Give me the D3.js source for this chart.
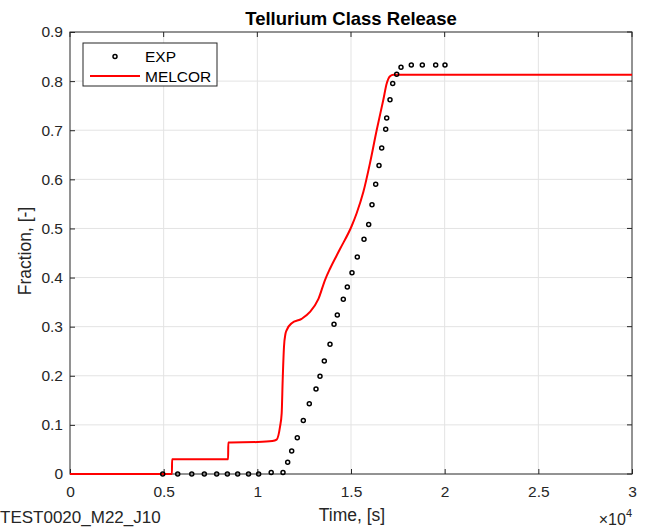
<!DOCTYPE html>
<html>
<head>
<meta charset="utf-8">
<script src="https://cdn.jsdelivr.net/npm/d3@7"></script>
<style>
  body { margin: 0; background: #fff; }
  svg { font-family: "Liberation Sans", Arial, sans-serif; }
</style>
</head>
<body>
<div id="chart"></div>
<script>
// experimental points (time in s, fraction)
var expTime = [4950, 5750, 6500, 7170, 7830, 8400, 8950, 9530, 10070, 10740, 11370,
  11620, 11834, 12133, 12454, 12774, 13132, 13345, 13575, 13879, 14093, 14269, 14589, 14803,
  15053, 15336, 15694, 15944, 16121, 16318, 16495, 16639, 16852, 16906, 17082, 17226,
  17439, 17669, 18219, 18807, 19520, 20017];
var expFrac = [0, 0, 0, 0, 0, 0, 0, 0, 0, 0.003, 0.003,
  0.024, 0.047, 0.074, 0.109, 0.143, 0.173, 0.199, 0.230, 0.264, 0.305, 0.324, 0.356, 0.381,
  0.410, 0.442, 0.478, 0.508, 0.548, 0.590, 0.628, 0.664, 0.702, 0.725, 0.762, 0.795,
  0.814, 0.828, 0.833, 0.833, 0.833, 0.833];

// MELCOR curve
var melTime = [0, 5440, 5450, 8440, 8450, 10000, 10800, 11030, 11210, 11300, 11353, 11423,
  11500, 11567, 11834, 12365, 12811, 13256, 13612, 13879, 14413, 15036, 15302, 15658,
  16014, 16370, 16726, 16906, 17082, 17260, 30000];
var melFrac = [0, 0, 0.030, 0.030, 0.064, 0.065, 0.067, 0.070, 0.096, 0.124, 0.191, 0.259,
  0.285, 0.293, 0.307, 0.316, 0.330, 0.356, 0.395, 0.418, 0.458, 0.505, 0.531, 0.574,
  0.633, 0.700, 0.762, 0.795, 0.810, 0.813, 0.813];

var xTicks = [0, 5000, 10000, 15000, 20000, 25000, 30000];
var xTickLabels = ["0", "0.5", "1", "1.5", "2", "2.5", "3"];
var yTicks = [0, 0.1, 0.2, 0.3, 0.4, 0.5, 0.6, 0.7, 0.8, 0.9];

var W = 653, H = 527;
var margin = {top: 32, right: 21, bottom: 53, left: 70},
    width = W - margin.left - margin.right,
    height = H - margin.top - margin.bottom;

var svg = d3.select("#chart").append("svg")
    .attr("width", W)
    .attr("height", H);

var g = svg.append("g")
    .attr("transform", "translate(" + margin.left + "," + margin.top + ")");

var x = d3.scaleLinear().domain([0, 30000]).range([0, width]);
var y = d3.scaleLinear().domain([0, 0.9]).range([height, 0]);

// grid
g.append("g").selectAll("line").data(xTicks.slice(1, -1)).enter().append("line")
    .attr("x1", d => x(d)).attr("x2", d => x(d))
    .attr("y1", 0).attr("y2", height)
    .attr("stroke", "#e3e3e3").attr("stroke-width", 1);
g.append("g").selectAll("line").data(yTicks.slice(1, -1)).enter().append("line")
    .attr("y1", d => y(d)).attr("y2", d => y(d))
    .attr("x1", 0).attr("x2", width)
    .attr("stroke", "#e3e3e3").attr("stroke-width", 1);

// axes (ticks inside)
var xAxis = d3.axisBottom(x).tickValues(xTicks)
    .tickFormat((d, i) => xTickLabels[i]).tickSizeInner(-5).tickSizeOuter(0).tickPadding(12);
var yAxis = d3.axisLeft(y).tickValues(yTicks)
    .tickFormat(d => d === 0 ? "0" : d3.format(".1f")(d)).tickSizeInner(-5).tickSizeOuter(0).tickPadding(7);

var gx = g.append("g").attr("transform", "translate(0," + height + ")").call(xAxis);
var gy = g.append("g").call(yAxis);
[gx, gy].forEach(function(a) {
  a.selectAll("text").attr("font-size", 15.5).attr("fill", "#262626")
    .attr("font-family", "Liberation Sans, Arial, sans-serif");
  a.selectAll(".tick line").attr("stroke", "#262626");
  a.select(".domain").remove();
});

// top/right ticks
g.append("g").selectAll("line").data(xTicks).enter().append("line")
    .attr("x1", d => x(d)).attr("x2", d => x(d)).attr("y1", 0).attr("y2", 5)
    .attr("stroke", "#262626");
g.append("g").selectAll("line").data(yTicks).enter().append("line")
    .attr("y1", d => y(d)).attr("y2", d => y(d)).attr("x1", width).attr("x2", width - 5)
    .attr("stroke", "#262626");

// frame
g.append("rect").attr("width", width).attr("height", height)
    .attr("fill", "none").attr("stroke", "#262626").attr("stroke-width", 1);

// MELCOR line
var melData = melTime.map((t, i) => [t, melFrac[i]]);
g.append("path").datum(melData)
    .attr("fill", "none").attr("stroke", "#ff0000").attr("stroke-width", 2)
    .attr("d", d3.line().x(d => x(d[0])).y(d => y(d[1])).curve(d3.curveMonotoneX));

// EXP points
var expData = expTime.map((t, i) => [t, expFrac[i]]);
g.append("g").selectAll("circle").data(expData).enter().append("circle")
    .attr("cx", d => x(d[0])).attr("cy", d => y(d[1])).attr("r", 2)
    .attr("fill", "none").attr("stroke", "#000").attr("stroke-width", 1.5);

// title and labels
svg.append("text").attr("x", 351).attr("y", 25)
    .attr("text-anchor", "middle").attr("font-size", 18.5).attr("font-weight", "bold")
    .attr("fill", "#000").text("Tellurium Class Release");
svg.append("text").attr("x", 352).attr("y", 521)
    .attr("text-anchor", "middle").attr("font-size", 17.5).attr("fill", "#262626")
    .text("Time, [s]");
svg.append("text").attr("transform", "translate(31," + (margin.top + height / 2 - 2) + ") rotate(-90)")
    .attr("text-anchor", "middle").attr("font-size", 17.5).attr("fill", "#262626")
    .text("Fraction, [-]");
svg.append("text").attr("x", 0).attr("y", 523)
    .attr("font-size", 17).attr("fill", "#262626").text("TEST0020_M22_J10");
var xp = svg.append("text").attr("x", 632).attr("y", 525)
    .attr("text-anchor", "end").attr("font-size", 16).attr("fill", "#262626");
xp.append("tspan").text("\u00d710");
xp.append("tspan").attr("dy", -8).attr("font-size", 11).text("4");

// legend
var lg = svg.append("g").attr("transform", "translate(83,43)");
lg.append("rect").attr("width", 134).attr("height", 43)
    .attr("fill", "#fff").attr("stroke", "#262626").attr("stroke-width", 1);
lg.append("circle").attr("cx", 32).attr("cy", 13.5).attr("r", 2)
    .attr("fill", "none").attr("stroke", "#000").attr("stroke-width", 1.5);
lg.append("line").attr("x1", 7).attr("x2", 57).attr("y1", 33).attr("y2", 33)
    .attr("stroke", "#ff0000").attr("stroke-width", 2);
lg.append("text").attr("x", 62).attr("y", 19).attr("font-size", 15.5).attr("fill", "#000").text("EXP");
lg.append("text").attr("x", 62).attr("y", 38.5).attr("font-size", 15.5).attr("fill", "#000").text("MELCOR");
</script>
</body>
</html>
